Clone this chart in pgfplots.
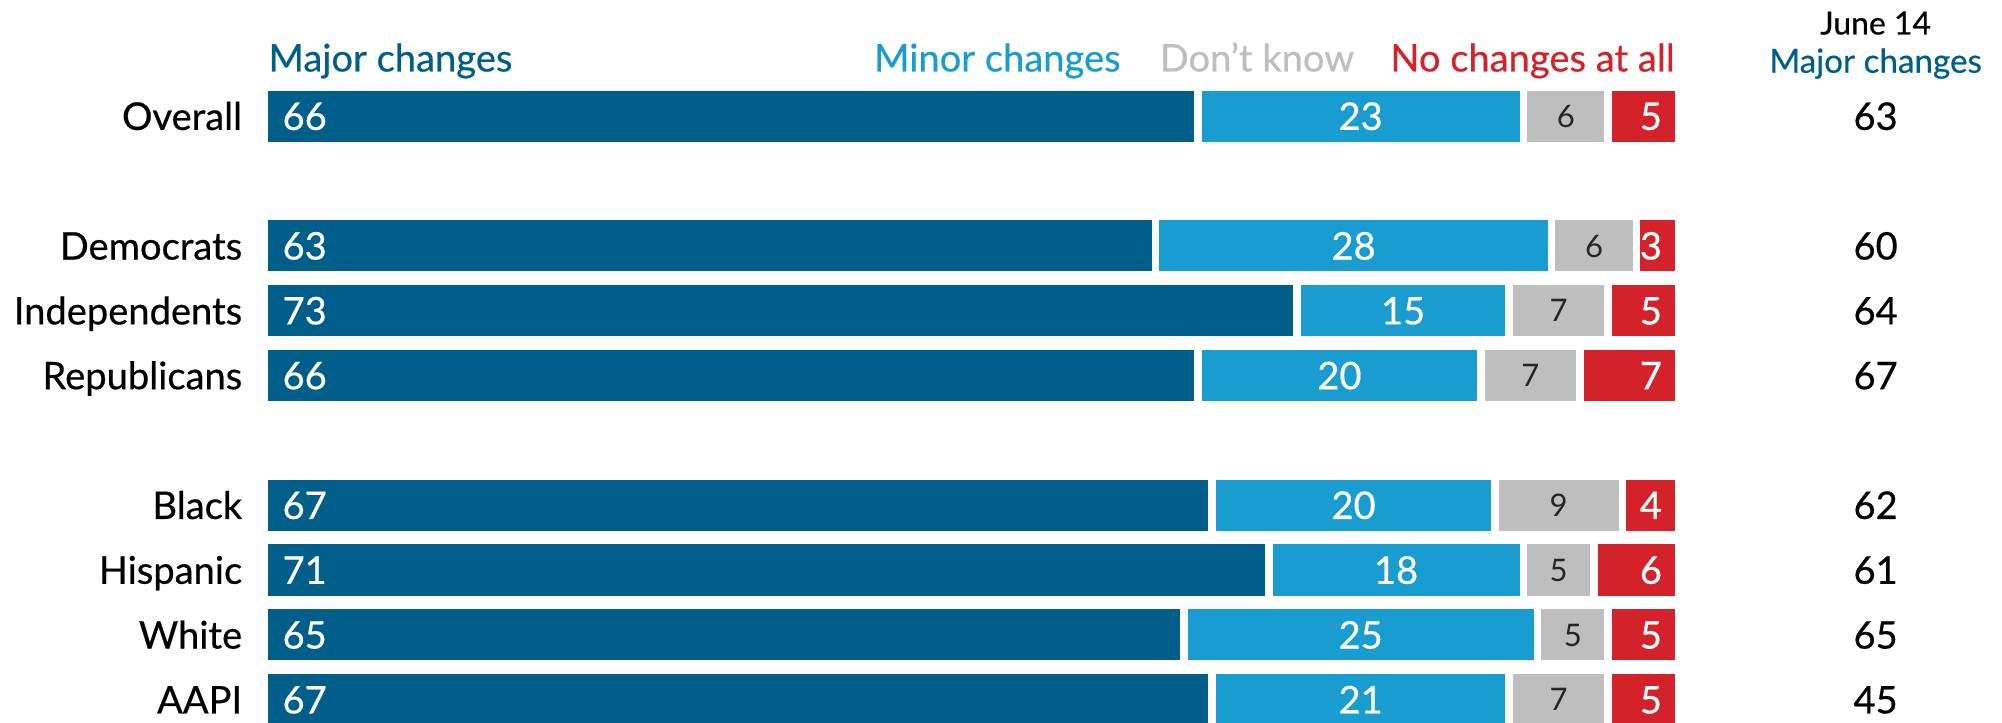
\documentclass[border=0pt]{standalone}
\usepackage{pgfplots}
\pgfplotsset{compat=1.18}
\usepackage{pgfplotstable}
\usepackage{fontspec}
\setmainfont{Lato}[BoldFont=Lato, BoldFeatures={FakeBold=0.5}]
\newfontfamily\plainfont{Lato}
\definecolor{cMajor}{HTML}{005E8A}
\definecolor{cMinor}{HTML}{199DD0}
\definecolor{cDK}{HTML}{BEBEBE}
\definecolor{cNo}{HTML}{D3222A}
\pgfplotstableread{
y name major minor dk no june
0 Overall 66 23 6 5 63
-2 Democrats 63 28 6 3 60
-3 Independents 73 15 7 5 64
-4 Republicans 66 20 7 7 67
-6 Black 67 20 9 4 62
-7 Hispanic 71 18 5 6 61
-8 White 65 25 5 5 65
-9 AAPI 67 21 7 5 45
}\data
\pgfplotsset{
  base/.style={scale only axis, width=664.8pt, height=339.6pt,
    xmin=0, xmax=100, ymin=-9.354, ymax=1.792, clip=false,
    anchor=south west, at={(124.2pt,0pt)},
    axis line style={draw=none}, tick style={draw=none}, xtick=\empty},
  lab/.style={only marks, mark=*, mark size=0pt, mark options={draw=none,fill=none},
    nodes near coords, point meta=explicit symbolic},
}
\newcommand\mainfs{\bfseries\fontsize{17.9}{20}\selectfont}
\begin{document}
\begin{tikzpicture}
\path[use as bounding box] (0,0) rectangle (940.8pt,339.6pt);
\begin{axis}[base, xbar stacked, bar width=27.6pt,
  ytick={0,-2,-3,-4,-6,-7,-8,-9},
  yticklabels={Overall,Democrats,Independents,Republicans,Black,Hispanic,White,AAPI},
  yticklabel style={font=\mainfs, anchor=east, inner sep=0pt, xshift=-10.2pt,
    text height=12.9pt, text depth=0pt}]
\addplot[fill=cMajor, draw=white, line width=3.6pt] table[x=major,y=y]{\data};
\addplot[fill=cMinor, draw=white, line width=3.6pt] table[x=minor,y=y]{\data};
\addplot[fill=cDK, draw=white, line width=3.6pt] table[x=dk,y=y]{\data};
\addplot[fill=cNo, draw=white, line width=3.6pt] table[x=no,y=y]{\data};
\end{axis}
\begin{axis}[base, ytick=\empty]
\addplot[lab, every node near coord/.append style={anchor=west, inner sep=0pt, xshift=8.4pt,
   text=white, font=\mainfs, text height=12.9pt, text depth=0pt}]
   table[x expr=0, y=y, meta=major]{\data};
\addplot[lab, every node near coord/.append style={anchor=center, inner sep=0pt,
   text=white, font=\mainfs, text height=12.9pt, text depth=0pt}]
   table[x expr=\thisrow{major}+\thisrow{minor}/2, y=y, meta=minor]{\data};
\addplot[lab, every node near coord/.append style={anchor=center, inner sep=0pt,
   text=black!85, font=\plainfont\fontsize{14.6}{16}\selectfont, text height=10.5pt, text depth=0pt}]
   table[x expr=\thisrow{major}+\thisrow{minor}+\thisrow{dk}/2, y=y, meta=dk]{\data};
\addplot[lab, every node near coord/.append style={anchor=east, inner sep=0pt, xshift=-7.8pt,
   text=white, font=\mainfs, text height=12.9pt, text depth=0pt}]
   table[x expr=100, y=y, meta=no]{\data};
\addplot[lab, every node near coord/.append style={anchor=center, inner sep=0pt,
   text=black, font=\mainfs, text height=12.9pt, text depth=0pt}]
   table[x expr=113.9, y=y, meta=june]{\data};
\node[anchor=base west, inner sep=0pt, text=cMajor, font=\mainfs] at (axis cs:0.27,0.689) {Major changes};
\node[anchor=base east, inner sep=0pt, text=cMinor, font=\mainfs] at (axis cs:60.56,0.689) {Minor changes};
\node[anchor=base west, inner sep=0pt, text=cDK, font=\mainfs] at (axis cs:63.27,0.689) {Don’t know};
\node[anchor=base east, inner sep=0pt, text=cNo, font=\mainfs] at (axis cs:99.73,0.689) {No changes at all};
\node[anchor=base, inner sep=0pt, text=black, font=\bfseries\fontsize{15}{17}\selectfont] at (axis cs:113.9,1.26) {June 14};
\node[anchor=base, inner sep=0pt, text=cMajor, font=\bfseries\fontsize{15.6}{18}\selectfont] at (axis cs:113.9,0.67) {Major changes};
\end{axis}
\end{tikzpicture}
\end{document}
